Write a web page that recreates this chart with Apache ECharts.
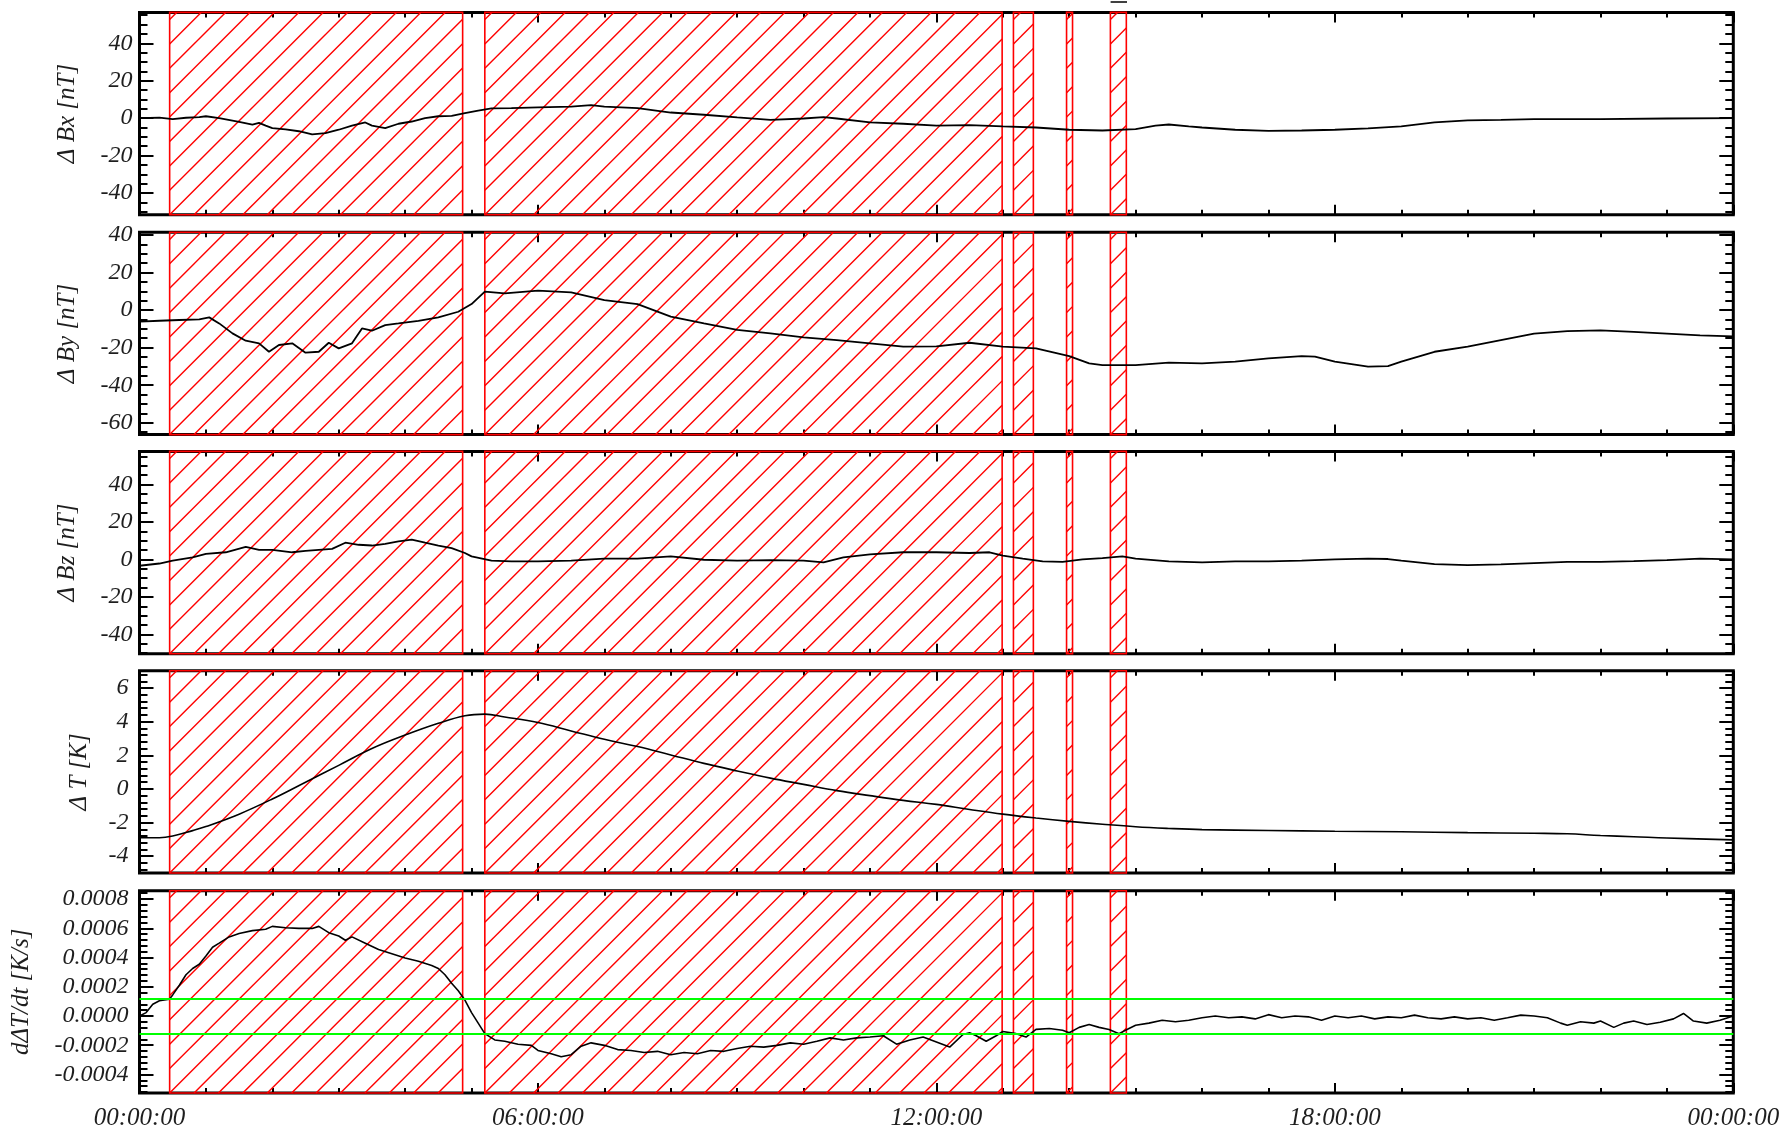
<!DOCTYPE html>
<html><head><meta charset="utf-8">
<script src="https://cdn.jsdelivr.net/npm/echarts@6/dist/echarts.min.js"></script>
<style>html,body{margin:0;padding:0;background:#fff}#c{width:1786px;height:1135px}</style>
</head><body><div id="c"></div>
<script>
// ---------------- data (x in hours of day) ----------------
const xTickLabels = ['00:00:00', '06:00:00', '12:00:00', '18:00:00', '00:00:00'];

const bxData = [[0,0],[0.3,0.3],[0.5,-0.5],[0.7,0.2],[0.9,0.5],[1.0,1],[1.2,0],[1.5,-2],[1.7,-3.5],[1.8,-2.5],[1.9,-4],[2.0,-5.3],[2.2,-6],[2.4,-7],[2.6,-8.7],[2.8,-8],[3.0,-6.2],[3.2,-4],[3.4,-2.3],[3.5,-4],[3.7,-5.3],[3.9,-3],[4.1,-1.8],[4.3,0],[4.5,1],[4.7,1.2],[4.9,2.7],[5.1,4],[5.3,5.2],[5.6,5.3],[6.0,5.7],[6.5,6.2],[6.8,7],[7.0,6.2],[7.5,5.3],[8.0,3],[8.5,1.8],[9.0,0.4],[9.5,-0.9],[10,-0.2],[10.3,0.5],[10.5,-0.2],[11,-2.3],[11.5,-3],[12,-4],[12.5,-3.7],[13,-4.4],[13.5,-5],[14,-6.2],[14.5,-6.6],[15,-5.9],[15.3,-4],[15.5,-3.4],[15.8,-4.4],[16,-5],[16.5,-6.2],[17,-6.8],[17.5,-6.6],[18,-6.2],[18.5,-5.5],[19,-4.4],[19.5,-2.3],[20,-1.2],[20.5,-0.9],[21,-0.5],[22,-0.5],[23,-0.2],[24,0]];

const byData = [[0,-6.2],[0.3,-5.7],[0.6,-5.3],[0.9,-5],[1.05,-3.9],[1.2,-7.1],[1.4,-12.4],[1.6,-16.3],[1.8,-17.7],[1.95,-22.2],[2.1,-18.6],[2.3,-17.7],[2.5,-22.7],[2.7,-22.2],[2.85,-17.4],[3.0,-20.4],[3.2,-17.7],[3.35,-9.8],[3.5,-11],[3.7,-8],[3.9,-7.1],[4.2,-5.7],[4.5,-3.9],[4.8,-0.9],[5.0,3.2],[5.2,9.8],[5.5,8.9],[6.0,10.3],[6.5,9.4],[7.0,5.3],[7.5,3.2],[8.0,-3.5],[8.5,-7.1],[9.0,-10.6],[9.5,-12.4],[10,-14.5],[10.5,-16],[11,-17.7],[11.5,-19.5],[12,-19.3],[12.5,-17.4],[13,-19.5],[13.5,-20.4],[14,-24.5],[14.3,-28.4],[14.5,-29.3],[15,-29.3],[15.5,-28],[16,-28.4],[16.5,-27.5],[17,-25.7],[17.5,-24.5],[17.7,-24.8],[18,-27.5],[18.5,-30.1],[18.8,-29.8],[19,-27.5],[19.5,-22.2],[20,-19.5],[20.5,-16],[21,-12.5],[21.5,-11.2],[22,-10.8],[22.5,-11.6],[23,-12.5],[23.5,-13.5],[24,-14]];

const bzData = [[0,-3.4],[0.3,-2.2],[0.5,-0.7],[0.8,1.1],[1.0,2.9],[1.3,3.8],[1.6,6.7],[1.8,5.1],[2.0,5.1],[2.3,3.8],[2.5,4.5],[2.7,5.1],[2.9,5.6],[3.1,8.9],[3.3,7.8],[3.5,7.4],[3.7,8.3],[3.9,9.6],[4.1,10.5],[4.3,8.9],[4.5,7.4],[4.7,6],[4.9,3.4],[5.0,1.6],[5.3,-0.7],[5.6,-1.1],[6,-1.1],[6.5,-0.7],[7,0.4],[7.5,0.4],[8,1.6],[8.5,-0.2],[9,-0.7],[9.5,-0.4],[10,-0.7],[10.3,-1.6],[10.6,1.1],[11,2.7],[11.5,3.8],[12,3.8],[12.5,3.4],[12.8,3.8],[13,2],[13.3,0.4],[13.6,-1.1],[13.9,-1.3],[14.2,0],[14.5,0.7],[14.8,1.6],[15,0.4],[15.5,-1.1],[16,-1.6],[16.5,-1.1],[17,-1.1],[17.5,-0.7],[18,0],[18.5,0.4],[18.8,0.2],[19,-0.7],[19.5,-2.5],[20,-3.1],[20.5,-2.7],[21,-2],[21.5,-1.3],[22,-1.3],[22.5,-0.9],[23,-0.4],[23.5,0.4],[24,0]];

const tData = [[0,-2.9],[0.3,-2.9],[0.5,-2.8],[0.8,-2.48],[1.0,-2.24],[1.5,-1.5],[2.0,-0.6],[2.5,0.4],[3.0,1.4],[3.5,2.4],[4.0,3.2],[4.5,3.9],[4.9,4.35],[5.2,4.45],[5.5,4.28],[6.0,3.95],[6.5,3.45],[7.0,2.95],[7.5,2.52],[8.0,2.02],[8.5,1.52],[9.0,1.07],[9.5,0.64],[10,0.27],[10.5,-0.1],[11,-0.4],[11.5,-0.68],[12,-0.92],[12.5,-1.22],[13,-1.5],[13.5,-1.73],[14,-1.93],[14.5,-2.1],[15,-2.25],[15.5,-2.35],[16,-2.42],[17,-2.47],[18,-2.52],[19,-2.55],[20,-2.6],[21,-2.64],[21.5,-2.67],[22,-2.77],[22.5,-2.84],[23,-2.92],[24,-3.03]];

// dT/dt in units of 1e-4 K/s
const dtData = [[0,0],[0.1,0.23],[0.2,0.8],[0.3,1.04],[0.45,1.15],[0.5,1.44],[0.6,2.1],[0.7,2.82],[0.8,3.25],[0.9,3.54],[1.0,4.1],[1.1,4.7],[1.2,4.98],[1.35,5.41],[1.5,5.64],[1.7,5.84],[1.9,5.93],[2.0,6.13],[2.2,6.04],[2.4,5.99],[2.6,5.99],[2.7,6.13],[2.85,5.7],[3.0,5.47],[3.1,5.18],[3.2,5.41],[3.4,4.98],[3.6,4.55],[3.8,4.26],[4.0,3.97],[4.2,3.74],[4.4,3.45],[4.5,3.25],[4.6,2.82],[4.7,2.24],[4.8,1.73],[4.9,1.09],[5.0,0.23],[5.1,-0.49],[5.2,-1.21],[5.35,-1.64],[5.5,-1.73],[5.7,-1.93],[5.9,-2.01],[6.0,-2.36],[6.2,-2.59],[6.35,-2.79],[6.5,-2.65],[6.65,-2.07],[6.8,-1.84],[7.0,-2.01],[7.2,-2.3],[7.4,-2.36],[7.6,-2.5],[7.8,-2.42],[8.0,-2.65],[8.2,-2.5],[8.4,-2.59],[8.6,-2.36],[8.8,-2.42],[9.0,-2.22],[9.2,-2.07],[9.4,-2.13],[9.6,-2.01],[9.8,-1.84],[10.0,-1.93],[10.2,-1.73],[10.4,-1.5],[10.6,-1.64],[10.8,-1.5],[11.0,-1.44],[11.2,-1.35],[11.4,-1.93],[11.6,-1.64],[11.8,-1.44],[12,-1.78],[12.2,-2.13],[12.4,-1.27],[12.5,-1.15],[12.6,-1.35],[12.75,-1.73],[12.9,-1.35],[13.0,-1.06],[13.2,-1.21],[13.35,-1.44],[13.5,-0.92],[13.7,-0.86],[13.9,-0.98],[14.0,-1.15],[14.15,-0.78],[14.3,-0.58],[14.45,-0.78],[14.6,-0.92],[14.75,-1.21],[14.9,-0.86],[15.0,-0.63],[15.2,-0.49],[15.4,-0.29],[15.6,-0.4],[15.8,-0.29],[16.0,-0.12],[16.2,0],[16.4,-0.12],[16.6,-0.06],[16.8,-0.2],[17.0,0.09],[17.2,-0.12],[17.4,0],[17.6,-0.06],[17.8,-0.29],[18.0,0],[18.2,-0.12],[18.4,0],[18.6,-0.2],[18.8,-0.06],[19.0,-0.12],[19.2,0.06],[19.4,-0.12],[19.6,-0.2],[19.8,-0.06],[20.0,-0.2],[20.2,-0.12],[20.4,-0.29],[20.6,-0.12],[20.8,0.06],[21.0,0],[21.2,-0.12],[21.4,-0.49],[21.5,-0.63],[21.7,-0.4],[21.9,-0.49],[22.0,-0.35],[22.2,-0.78],[22.35,-0.49],[22.5,-0.35],[22.7,-0.58],[22.9,-0.43],[23.1,-0.2],[23.25,0.17],[23.4,-0.35],[23.6,-0.49],[23.8,-0.29],[24,0]];

// hatched intervals [start hour, end hour]
const hatchRegions = [[0.454,4.866],[5.20,12.99],[13.16,13.46],[13.96,14.05],[14.62,14.86]];
// green threshold levels for dT/dt (1e-4 K/s)
const thresholdLevels = [1.2, -1.2];

// axis ranges and tick labels
const bxRange = [-51.6, 56.5], bxTicks = [-40, -20, 0, 20, 40];
const byRange = [-66.3, 41.4], byTicks = [-60, -40, -20, 0, 20, 40];
const bzRange = [-50.3, 57.6], bzTicks = [-40, -20, 0, 20, 40];
const tRange  = [-5.0, 7.03],  tTicks  = [-4, -2, 0, 2, 4, 6];
const dtRange = [-5.27, 8.57], dtTicks = [-4, -2, 0, 2, 4, 6, 8];

// ---------------- layout / style ----------------
const FONT = "'Liberation Serif', 'Times New Roman', serif";
const TXT = '#1e1e1e';
const panels = [
  {data: bxData, range: bxRange, ticks: bxTicks, minorStep: 5, name: 'Δ Bx [nT]', gap: 60, margin: 7, fmt: v => String(v), lw: 1.8},
  {data: byData, range: byRange, ticks: byTicks, minorStep: 5, name: 'Δ By [nT]', gap: 60, margin: 7, fmt: v => String(v), lw: 1.8},
  {data: bzData, range: bzRange, ticks: bzTicks, minorStep: 5, name: 'Δ Bz [nT]', gap: 60, margin: 7, fmt: v => String(v), lw: 1.8},
  {data: tData,  range: tRange,  ticks: tTicks,  minorStep: 0.4, name: 'Δ T [K]', gap: 48, margin: 11, fmt: v => String(v), smooth: true, lw: 1.6},
  {data: dtData, range: dtRange, ticks: dtTicks, minorStep: 0.4, name: 'dΔT/dt [K/s]', gap: 106, margin: 11, fmt: v => (v * 1e-4).toFixed(4), lw: 1.6}
];
const tops = [12.4, 232.3, 451.4, 670.7, 890.7];
const PH = 202.3;

function minorValues(range, step, majors) {
  const out = [];
  const start = Math.ceil(range[0] / step) * step;
  for (let k = 0; start + k * step <= range[1] + 1e-9; k++) {
    const v = Math.round((start + k * step) * 1000) / 1000;
    if (!majors.some(m => Math.abs(m - v) < 1e-6)) out.push(v);
  }
  return out;
}

function hatchRender(params, api) {
  const cs = params.coordSys;
  const x0 = api.coord([api.value(0), 0])[0];
  const x1 = api.coord([api.value(1), 0])[0];
  const y0 = cs.y, y1 = cs.y + cs.height;
  const sp = 24.4;
  const c0 = x0 + y1;
  const children = [];
  let c = c0 - Math.ceil((y1 - y0) / sp + 1) * sp;
  for (; c <= x1 + y1 + 0.01; c += sp) {
    const xa = Math.max(x0, c - y1), xb = Math.min(x1, c - y0);
    if (xb - xa > 0.3) {
      children.push({type: 'line', silent: true,
        shape: {x1: xa, y1: c - xa, x2: xb, y2: c - xb},
        style: {stroke: '#ff0000', lineWidth: 1.4}});
    }
  }
  children.push({type: 'rect', silent: true,
    shape: {x: x0, y: y0, width: x1 - x0, height: y1 - y0},
    style: {fill: 'transparent', stroke: '#ff0000', lineWidth: 1.6}});
  return {type: 'group', children};
}

const grid = [], xAxis = [], yAxis = [], series = [];
const tickStyle = {color: '#000', width: 2};
panels.forEach((p, i) => {
  grid.push({left: 139.5, right: 52.7, top: tops[i], height: PH, show: true,
    borderColor: '#000', borderWidth: 3, backgroundColor: 'transparent',
    containLabel: false, outerBoundsMode: 'none'});
  ['bottom', 'top'].forEach(pos => {
    xAxis.push({type: 'value', gridIndex: i, position: pos, min: 0, max: 24, interval: 6,
      axisLine: {show: false, onZero: false},
      axisTick: {show: true, inside: true, length: 10, lineStyle: tickStyle},
      minorTick: {show: true, splitNumber: 6, length: 5, lineStyle: tickStyle},
      splitLine: {show: false}, minorSplitLine: {show: false},
      axisLabel: {show: pos === 'bottom' && i === 4, margin: 13, showMinLabel: true, showMaxLabel: true,
        formatter: v => xTickLabels[Math.round(v / 6)],
        fontFamily: FONT, fontStyle: 'italic', fontSize: 25, color: TXT}
    });
  });
  const minors = minorValues(p.range, p.minorStep, p.ticks);
  ['left', 'right'].forEach(pos => {
    yAxis.push({type: 'value', gridIndex: i, position: pos, min: p.range[0], max: p.range[1],
      axisLine: {show: false, onZero: false},
      axisTick: {show: true, inside: true, length: 14, customValues: p.ticks, lineStyle: tickStyle},
      axisLabel: {show: pos === 'left', customValues: p.ticks, formatter: p.fmt, margin: p.margin,
        fontFamily: FONT, fontStyle: 'italic', fontSize: 24, color: TXT},
      splitLine: {show: false},
      name: pos === 'left' ? p.name : '', nameLocation: 'middle', nameGap: p.gap,
      nameTextStyle: {fontFamily: FONT, fontStyle: 'italic', fontSize: 25, color: TXT}
    });
    yAxis.push({type: 'value', gridIndex: i, position: pos, min: p.range[0], max: p.range[1],
      axisLine: {show: false, onZero: false},
      axisTick: {show: true, inside: true, length: 8, customValues: minors, lineStyle: tickStyle},
      axisLabel: {show: false, customValues: minors},
      splitLine: {show: false}
    });
  });
  series.push({type: 'custom', xAxisIndex: 2 * i, yAxisIndex: 4 * i, z: 2, silent: true,
    renderItem: hatchRender, encode: {x: [0, 1], y: 2},
    data: hatchRegions.map(r => [r[0], r[1], 0])});
  const s = {type: 'line', xAxisIndex: 2 * i, yAxisIndex: 4 * i, z: 3, silent: true,
    data: p.data, showSymbol: false, symbol: 'none', smooth: p.smooth ? 0.4 : false,
    lineStyle: {color: '#000', width: p.lw}};
  if (i === 4) {
    s.markLine = {silent: true, symbol: 'none', label: {show: false},
      lineStyle: {color: '#00ff00', width: 2, type: 'solid'},
      data: thresholdLevels.map(v => ({yAxis: v}))};
  }
  series.push(s);
});

const chart = echarts.init(document.getElementById('c'), null, {renderer: 'canvas'});
chart.setOption({
  backgroundColor: '#fff',
  animation: false,
  grid, xAxis, yAxis, series,
  graphic: [{type: 'line', shape: {x1: 1110.6, y1: 2, x2: 1127, y2: 2}, style: {stroke: '#000', lineWidth: 1.5}}]
});
</script></body></html>
